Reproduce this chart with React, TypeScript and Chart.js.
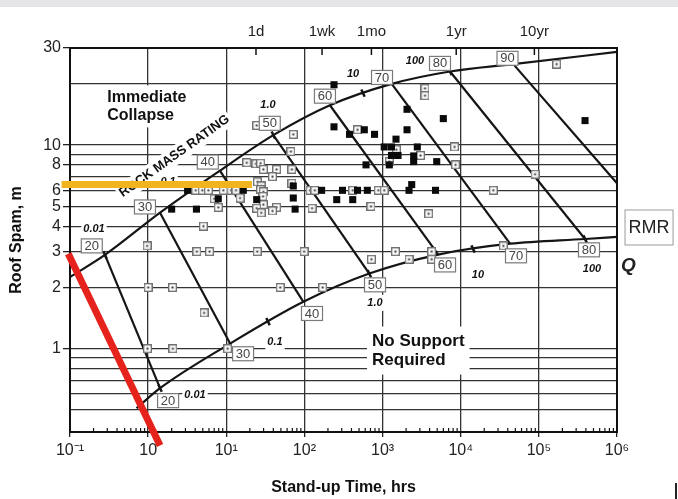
import React, { useEffect, useRef } from 'react';
import { Chart, registerables } from 'chart.js';

Chart.register(...registerables);

const FONT = '"Liberation Sans", Arial, Helvetica, sans-serif';

// ---------- axes ----------
const xMin = 0.1;
const xMax = 1000000;
const yMin = 0.39;
const yMax = 30;
const xTickValues = [0.1, 1, 10, 100, 1000, 10000, 100000, 1000000];
const xTickLabels = ['10⁻¹', '10', '10¹', '10²', '10³', '10⁴', '10⁵', '10⁶'];
const topTickValues = [24, 168, 720, 8760, 87600];
const topTickLabels = ['1d', '1wk', '1mo', '1yr', '10yr'];
const yGridValues = [0.5, 0.6, 0.7, 0.8, 0.9, 1, 2, 3, 4, 5, 6, 7, 8, 9, 10, 20, 30];
const yTickLabels = [1, 2, 3, 4, 5, 6, 8, 10, 30];

// ---------- RMR lines (upper end on collapse curve, lower end on no-support curve) ----------
const rmrValues = ['20', '30', '40', '50', '60', '70', '80', '90'];
const rmrUpperT = [0.28, 1.42, 8.3, 40, 212, 1310, 7300, 47100];
const rmrUpperS = [2.89, 4.66, 7.5, 11.2, 15.7, 20, 23, 25];
const rmrLowerT = [1.42, 11.2, 97, 676, 5160, 42800, 390000, 1000000];
const rmrLowerS = [0.64, 1.06, 1.7, 2.34, 2.9, 3.28, 3.46, 6.5];

// boundary curves
const upperCurveT = [0.1, 0.28, 1.42, 8.3, 40, 212, 1310, 7300, 47100, 1000000];
const upperCurveS = [2.25, 2.89, 4.66, 7.5, 11.2, 15.7, 20, 23, 25, 28.7];
const lowerCurveT = [0.71, 1.42, 11.2, 97, 676, 5160, 42800, 390000, 1000000];
const lowerCurveS = [0.51, 0.64, 1.06, 1.7, 2.34, 2.9, 3.28, 3.46, 3.54];

// RMR label anchors (upper / lower)
const rmrLabelUpperT = [0.19, 0.91, 5.8, 36, 183, 984, 5430, 39700];
const rmrLabelUpperS = [3.2, 4.97, 8.26, 12.8, 17.4, 21.5, 25.2, 26.7];
const rmrLabelLowerT = [1.8, 16.4, 125, 800, 6300, 51000, 438000];
const rmrLabelLowerS = [0.556, 0.945, 1.49, 2.06, 2.58, 2.86, 3.06];

// Q value labels
const qUpperLabels = ['0.01', '0.1', '1.0', '10', '100'];
const qUpperT = [0.203, 1.8, 34.2, 419, 2600];
const qUpperS = [3.88, 6.59, 15.7, 22.3, 25.8];
const qLowerLabels = ['0.01', '0.1', '1.0', '10', '100'];
const qLowerT = [3.98, 42, 800, 16600, 479000];
const qLowerS = [0.595, 1.08, 1.68, 2.31, 2.47];

// Q tick marks on the curves
const qTickT = [0.28, 40, 562, 7300, 1.42, 34.2, 676, 14400, 390000];
const qTickS = [2.89, 11.2, 18.0, 23, 0.64, 1.36, 2.34, 3.09, 3.46];

// ---------- case histories ----------
const openT = [
  24.5, 72, 67, 18.3, 24, 27.5, 29.8, 44, 69, 39, 25, 28, 27.5, 29.8, 29.5, 29.8, 24.5, 28, 44, 39, 69,
  4.06, 4.93, 5.89, 9.16, 11.5, 13.3, 7.0, 7.9, 15, 5.1, 0.97, 4.2, 6.1, 24.9, 99,
  1.0, 2.05, 49, 171, 5.2, 0.98, 2.07, 10.4,
  3490, 3490, 478, 8330, 1500, 3060, 1220, 8580, 89300,
  118, 136, 415, 882, 1050, 26100, 710, 125, 3890,
  1460, 4250, 4250, 720, 2180, 35100, 169000,
];
const openS = [
  12.5, 11.3, 9.3, 8.2, 8.1, 8.15, 7.6, 7.6, 7.6, 7.0, 6.6, 6.3, 6.05, 5.9, 5.6, 5.1, 4.9, 4.65, 4.95, 4.75, 6.5,
  6, 6, 6, 6, 6, 6, 5.45, 4.95, 5.5, 4.0, 3.2, 3, 3, 3, 3,
  2, 2, 2, 2, 1.5, 1, 1, 1,
  19, 17.5, 11.9, 9.8, 9.5, 8.9, 8.3, 8, 7.2,
  6, 6, 6, 6, 6, 6, 5, 4.9, 4.6,
  3, 3, 2.75, 2.75, 2.75, 3.2, 25,
];
const filledT = [
  3.2, 16.5, 7.9, 24.5, 2.0, 4.15, 76, 72, 72, 166,
  239, 2055, 5990, 239, 378, 584, 789, 2055, 1485,
  1050, 1300, 2785, 1300, 1577, 2500, 2500, 4930, 614, 1220,
  2360, 307, 478, 638, 2180, 4760, 259, 415, 390000,
];
const filledS = [
  6, 6, 5.45, 5.4, 4.85, 4.85, 4.85, 6.3, 5.5, 6,
  19.8, 15, 13.5, 12.3, 11.3, 11.9, 11.3, 11.9, 10.7,
  9.8, 9.8, 9.8, 8.9, 8.9, 8.85, 8.3, 8.3, 8, 8,
  6.4, 6, 6, 6, 6, 6, 5.4, 5.4, 13.2,
];

// highlight lines
const yellowT = [0.078, 21.3];
const yellowS = [6.4, 6.4];
const redT = [0.095, 1.42];
const redS = [2.93, 0.335];

// text anchors (data coordinates)
const collapseAnchor = { t: 0.3, s: 15.5 };
const rockAnchor = { t: 2.17, s: 8.83 };
const noSupportAnchor = { t: 733, s: 0.98 };
const rmrBoxAnchor = { t: 2570000, s: 3.94 };
const qAnchor = { t: 1400000, s: 2.57 };

const pts = (ts: number[], ss: number[]) => ts.map((t, i) => ({ x: t, y: ss[i] }));

function makeOpenSquare(): HTMLCanvasElement {
  const c = document.createElement('canvas');
  c.width = 9;
  c.height = 9;
  const g = c.getContext('2d')!;
  g.fillStyle = '#ffffff';
  g.fillRect(0, 0, 9, 9);
  g.strokeStyle = '#6a6a6a';
  g.lineWidth = 1.3;
  g.strokeRect(0.7, 0.7, 7.6, 7.6);
  g.fillStyle = '#333333';
  g.fillRect(3.5, 3.5, 2, 2);
  return c;
}

function bgText(
  ctx: CanvasRenderingContext2D,
  lines: string[],
  x: number,
  cy: number,
  font: string,
  lineH: number,
  align: CanvasTextAlign,
  pad: number,
) {
  ctx.font = font;
  const w = Math.max(...lines.map((l) => ctx.measureText(l).width));
  const h = lineH * lines.length;
  const left = align === 'left' ? x : x - w / 2;
  ctx.fillStyle = '#ffffff';
  ctx.fillRect(left - pad, cy - h / 2 - pad, w + 2 * pad, h + 2 * pad);
  ctx.fillStyle = '#111111';
  ctx.textAlign = align;
  ctx.textBaseline = 'middle';
  lines.forEach((l, i) => ctx.fillText(l, x, cy - h / 2 + lineH * (i + 0.5)));
}

const annotationPlugin = {
  id: 'rockAnnotations',
  beforeDatasetsDraw(chart: any) {
    const { ctx, chartArea: ca, scales } = chart;
    const px = (t: number) => scales.x.getPixelForValue(t);
    const py = (s: number) => scales.y.getPixelForValue(s);
    ctx.save();
    // frame
    ctx.strokeStyle = '#111111';
    ctx.lineWidth = 2;
    ctx.strokeRect(ca.left, ca.top, ca.right - ca.left, ca.bottom - ca.top);
    // minor ticks on bottom axis
    ctx.lineWidth = 1.2;
    for (let e = -1; e < 6; e++) {
      for (let m = 2; m <= 9; m++) {
        const xx = px(m * Math.pow(10, e));
        ctx.beginPath();
        ctx.moveTo(xx, ca.bottom);
        ctx.lineTo(xx, ca.bottom - 4);
        ctx.stroke();
      }
    }
    // top time ticks
    ctx.lineWidth = 1.5;
    topTickValues.forEach((v) => {
      const xx = scales.x2.getPixelForValue(v);
      ctx.beginPath();
      ctx.moveTo(xx, ca.top);
      ctx.lineTo(xx, ca.top + 7);
      ctx.stroke();
    });
    // region texts
    bgText(ctx, ['Immediate', 'Collapse'], px(collapseAnchor.t), py(collapseAnchor.s), `bold 16px ${FONT}`, 18, 'left', 3);
    bgText(ctx, ['No Support', 'Required'], px(noSupportAnchor.t), py(noSupportAnchor.s), `bold 17px ${FONT}`, 19, 'left', 5);
    ctx.save();
    ctx.translate(px(rockAnchor.t), py(rockAnchor.s));
    ctx.rotate((-35.5 * Math.PI) / 180);
    bgText(ctx, ['ROCK MASS RATING'], 0, 0, `bold 13px ${FONT}`, 14, 'center', 2);
    ctx.restore();
    // Q values
    const qFont = `italic bold 11px ${FONT}`;
    qUpperLabels.forEach((l, i) => bgText(ctx, [l], px(qUpperT[i]), py(qUpperS[i]), qFont, 12, 'center', 2));
    qLowerLabels.forEach((l, i) => bgText(ctx, [l], px(qLowerT[i]), py(qLowerS[i]), qFont, 12, 'center', 2));
    ctx.restore();
  },
  afterDatasetsDraw(chart: any) {
    const { ctx, scales } = chart;
    const px = (t: number) => scales.x.getPixelForValue(t);
    const py = (s: number) => scales.y.getPixelForValue(s);
    ctx.save();
    const box = (label: string, cx: number, cy: number) => {
      const w = 21;
      const h = 14;
      ctx.fillStyle = '#ffffff';
      ctx.fillRect(cx - w / 2, cy - h / 2, w, h);
      ctx.strokeStyle = '#7a7a7a';
      ctx.lineWidth = 1.2;
      ctx.strokeRect(cx - w / 2, cy - h / 2, w, h);
      ctx.fillStyle = '#444444';
      ctx.font = `13px ${FONT}`;
      ctx.textAlign = 'center';
      ctx.textBaseline = 'middle';
      ctx.fillText(label, cx, cy + 0.5);
    };
    rmrValues.forEach((l, i) => box(l, px(rmrLabelUpperT[i]), py(rmrLabelUpperS[i])));
    rmrLabelLowerT.forEach((t, i) => box(rmrValues[i], px(t), py(rmrLabelLowerS[i])));
    // RMR legend box
    const bx = px(rmrBoxAnchor.t);
    const by = py(rmrBoxAnchor.s);
    ctx.strokeStyle = '#9a9a9a';
    ctx.lineWidth = 1;
    ctx.strokeRect(bx - 24, by - 17.5, 48, 35);
    ctx.fillStyle = '#222222';
    ctx.font = `18px ${FONT}`;
    ctx.textAlign = 'center';
    ctx.textBaseline = 'middle';
    ctx.fillText('RMR', bx, by + 1);
    ctx.font = `italic bold 19px ${FONT}`;
    ctx.fillText('Q', px(qAnchor.t), py(qAnchor.s));
    ctx.restore();
  },
};

export default function App() {
  const canvasRef = useRef<HTMLCanvasElement | null>(null);

  useEffect(() => {
    if (!canvasRef.current) return;
    const openSquare = makeOpenSquare();
    const lineDs = (data: any[], order: number, extra: any = {}) => ({
      data,
      showLine: true,
      borderColor: '#151515',
      borderWidth: 2.2,
      pointRadius: 0,
      fill: false,
      order,
      ...extra,
    });
    const rmrDatasets = rmrUpperT.map((t, i) =>
      lineDs(
        [
          { x: t, y: rmrUpperS[i] },
          { x: rmrLowerT[i], y: rmrLowerS[i] },
        ],
        4,
      ),
    );

    const chart = new Chart(canvasRef.current, {
      type: 'scatter',
      data: {
        datasets: [
          lineDs(pts(yellowT, yellowS), 0, { borderColor: '#f2b41e', borderWidth: 7, clip: false }),
          lineDs(pts(redT, redS), 0, { borderColor: '#e5221c', borderWidth: 7, clip: false }),
          {
            data: pts(filledT, filledS),
            pointStyle: 'rect',
            pointRadius: 5,
            backgroundColor: '#0a0a0a',
            borderColor: '#0a0a0a',
            borderWidth: 0,
            order: 1,
          },
          {
            data: pts(openT, openS),
            pointStyle: openSquare,
            pointRadius: 5,
            order: 2,
          },
          {
            data: pts(qTickT, qTickS),
            pointStyle: 'line',
            pointRadius: 4,
            rotation: 65,
            borderColor: '#151515',
            borderWidth: 2.5,
            order: 3,
          },
          lineDs(pts(upperCurveT, upperCurveS), 4, { cubicInterpolationMode: 'monotone' }),
          lineDs(pts(lowerCurveT, lowerCurveS), 4, { cubicInterpolationMode: 'monotone' }),
          ...rmrDatasets,
        ],
      },
      options: {
        animation: false,
        responsive: false,
        devicePixelRatio: 1,
        layout: { padding: { left: 0, right: 61, top: 0, bottom: 0 } },
        plugins: { legend: { display: false }, tooltip: { enabled: false } },
        scales: {
          x: {
            type: 'logarithmic',
            position: 'bottom',
            min: xMin,
            max: xMax,
            afterBuildTicks: (axis: any) => {
              axis.ticks = xTickValues.map((v) => ({ value: v }));
            },
            afterFit: (s: any) => {
              s.height = 67;
            },
            ticks: {
              autoSkip: false,
              maxRotation: 0,
              padding: 4,
              color: '#222222',
              font: { family: FONT, size: 16 },
              callback: (_v: any, i: number) => xTickLabels[i],
            },
            grid: { color: '#333333', lineWidth: 1.3, tickLength: 5, tickColor: '#222222' },
            border: { display: false },
            title: {
              display: true,
              text: 'Stand-up Time, hrs',
              color: '#111111',
              font: { family: FONT, size: 16, weight: 'bold' },
              padding: { top: 0, bottom: 2 },
            },
          },
          x2: {
            type: 'logarithmic',
            position: 'top',
            min: xMin,
            max: xMax,
            afterBuildTicks: (axis: any) => {
              axis.ticks = topTickValues.map((v) => ({ value: v }));
            },
            afterFit: (s: any) => {
              s.height = 48;
            },
            ticks: {
              autoSkip: false,
              maxRotation: 0,
              padding: 7,
              color: '#222222',
              font: { family: FONT, size: 15 },
              callback: (_v: any, i: number) => topTickLabels[i],
            },
            grid: { display: false, drawTicks: false },
            border: { display: false },
          },
          y: {
            type: 'logarithmic',
            position: 'left',
            min: yMin,
            max: yMax,
            afterBuildTicks: (axis: any) => {
              axis.ticks = yGridValues.map((v) => ({ value: v }));
            },
            afterFit: (s: any) => {
              s.width = 70;
            },
            ticks: {
              autoSkip: false,
              padding: 2,
              color: '#222222',
              font: { family: FONT, size: 16 },
              callback: (v: any) => (yTickLabels.includes(Number(v)) ? String(v) : ''),
            },
            grid: {
              color: '#333333',
              lineWidth: 1.3,
              tickLength: 7,
              tickColor: (c: any) => (c.tick && yTickLabels.includes(c.tick.value) ? '#222222' : 'rgba(0,0,0,0)'),
            },
            border: { display: false },
            title: {
              display: true,
              text: 'Roof Spam, m',
              color: '#111111',
              font: { family: FONT, size: 16, weight: 'bold' },
              padding: { top: 7, bottom: 0 },
            },
          },
        },
      },
      plugins: [annotationPlugin],
    } as any);

    return () => chart.destroy();
  }, []);

  return (
    <div style={{ position: 'absolute', left: 0, top: 0, width: 678, height: 499, background: '#ffffff', overflow: 'hidden' }}>
      <div style={{ position: 'absolute', left: 0, top: 0, width: 678, height: 7, background: '#e6e6e8' }} />
      <canvas ref={canvasRef} width={678} height={499} style={{ position: 'absolute', left: 0, top: 0 }} />
      <div style={{ position: 'absolute', left: 675, top: 483, width: 2, height: 16, background: '#222222' }} />
    </div>
  );
}
